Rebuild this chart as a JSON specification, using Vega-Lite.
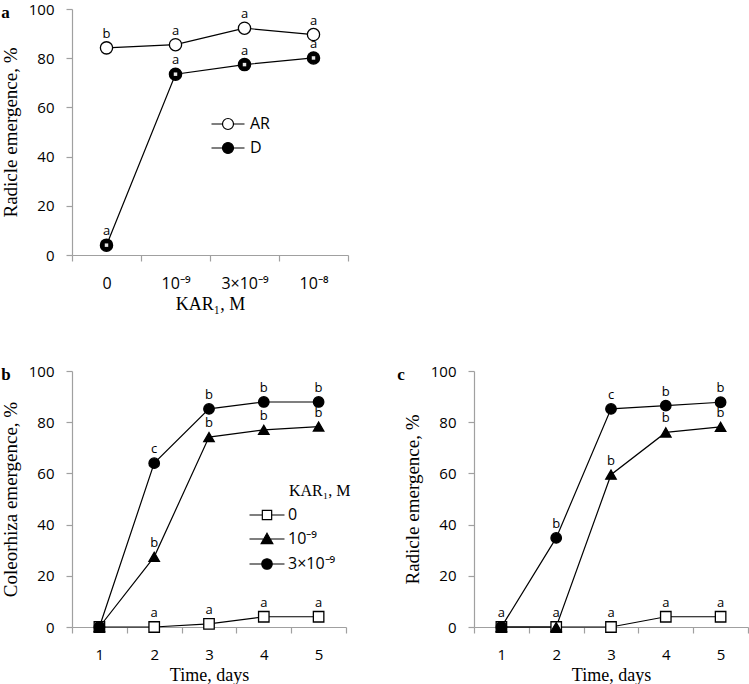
{
  "$schema": "https://vega.github.io/schema/vega-lite/v6.json",
  "padding": {"left": 1, "top": 2, "right": 0, "bottom": 0},
  "background": "white",
  "datasets": {
    "a": [
      {"conc": "0", "series": "AR", "value": 84.2, "letter": "b"},
      {"conc": "10⁻⁹", "series": "AR", "value": 85.5, "letter": "a"},
      {"conc": "3×10⁻⁹", "series": "AR", "value": 92.2, "letter": "a"},
      {"conc": "10⁻⁸", "series": "AR", "value": 89.6, "letter": "a"},
      {"conc": "0", "series": "D", "value": 4.0, "letter": "a"},
      {"conc": "10⁻⁹", "series": "D", "value": 73.5, "letter": "a"},
      {"conc": "3×10⁻⁹", "series": "D", "value": 77.4, "letter": "a"},
      {"conc": "10⁻⁸", "series": "D", "value": 80.1, "letter": "a"}
    ],
    "b": [
      {"day": 1, "series": "0", "value": 0, "letter": ""},
      {"day": 2, "series": "0", "value": 0, "letter": "a"},
      {"day": 3, "series": "0", "value": 1.2, "letter": "a"},
      {"day": 4, "series": "0", "value": 4.0, "letter": "a"},
      {"day": 5, "series": "0", "value": 4.0, "letter": "a"},
      {"day": 1, "series": "10⁻⁹", "value": 0, "letter": ""},
      {"day": 2, "series": "10⁻⁹", "value": 27.4, "letter": "b"},
      {"day": 3, "series": "10⁻⁹", "value": 74.2, "letter": "b"},
      {"day": 4, "series": "10⁻⁹", "value": 77.0, "letter": "b"},
      {"day": 5, "series": "10⁻⁹", "value": 78.3, "letter": "b"},
      {"day": 1, "series": "3×10⁻⁹", "value": 0, "letter": ""},
      {"day": 2, "series": "3×10⁻⁹", "value": 64.0, "letter": "c"},
      {"day": 3, "series": "3×10⁻⁹", "value": 85.2, "letter": "b"},
      {"day": 4, "series": "3×10⁻⁹", "value": 87.9, "letter": "b"},
      {"day": 5, "series": "3×10⁻⁹", "value": 87.9, "letter": "b"}
    ],
    "c": [
      {"day": 1, "series": "0", "value": 0, "letter": "a"},
      {"day": 2, "series": "0", "value": 0, "letter": "a"},
      {"day": 3, "series": "0", "value": 0, "letter": "a"},
      {"day": 4, "series": "0", "value": 4.0, "letter": "a"},
      {"day": 5, "series": "0", "value": 4.0, "letter": "a"},
      {"day": 1, "series": "10⁻⁹", "value": 0, "letter": ""},
      {"day": 2, "series": "10⁻⁹", "value": 0, "letter": ""},
      {"day": 3, "series": "10⁻⁹", "value": 59.5, "letter": "b"},
      {"day": 4, "series": "10⁻⁹", "value": 76.0, "letter": "b"},
      {"day": 5, "series": "10⁻⁹", "value": 78.2, "letter": "b"},
      {"day": 1, "series": "3×10⁻⁹", "value": 0, "letter": ""},
      {"day": 2, "series": "3×10⁻⁹", "value": 34.8, "letter": "b"},
      {"day": 3, "series": "3×10⁻⁹", "value": 85.2, "letter": "c"},
      {"day": 4, "series": "3×10⁻⁹", "value": 86.5, "letter": "b"},
      {"day": 5, "series": "3×10⁻⁹", "value": 87.8, "letter": "b"}
    ]
  },
  "spacing": 116,
  "bounds": "flush",
  "resolve": {"scale": {"x": "independent", "y": "independent", "fill": "independent", "shape": "independent"}, "legend": {"fill": "independent", "shape": "independent"}},
  "vconcat": [
    {
      "width": 276,
      "height": 246,
      "title": {"text": "a"},
      "data": {"name": "a"},
      "encoding": {
        "x": {"field": "conc", "type": "ordinal", "sort": ["0", "10⁻⁹", "3×10⁻⁹", "10⁻⁸"], "scale": {"type": "band", "paddingInner": 0, "paddingOuter": 0}, "axis": {"title": "KAR₁, M", "tickBand": "extent", "labelAngle": 0, "labelFontSize": 16}},
        "y": {"field": "value", "type": "quantitative", "scale": {"domain": [0, 100]}, "axis": {"title": "Radicle emergence, %", "values": [0, 20, 40, 60, 80, 100]}}
      },
      "layer": [
        {"mark": {"type": "line", "color": "black", "strokeWidth": 1.2}, "encoding": {"detail": {"field": "series"}}},
        {"mark": {"type": "point", "shape": "circle", "filled": true, "size": 150, "stroke": "black", "strokeWidth": 1.3, "opacity": 1},
         "encoding": {"fill": {"field": "series", "type": "nominal", "scale": {"domain": ["AR", "D"], "range": ["white", "black"]},
           "legend": {"title": null, "orient": "none", "legendX": 148, "legendY": 107, "symbolType": "M-3,0H-1M1,0H3M-1,0A1,1,0,1,0,1,0A1,1,0,1,0,-1,0Z", "symbolSize": 121, "symbolStrokeColor": "black", "symbolStrokeWidth": 1.2, "labelOffset": 14, "rowPadding": 8}}}},
        {"transform": [{"filter": "datum.series === 'D'"}], "mark": {"type": "point", "shape": "square", "filled": true, "size": 12, "fill": "white", "opacity": 0.9}},
        {"mark": {"type": "text", "dy": -14, "font": "Open Sans", "fontSize": 13, "color": "black"}, "encoding": {"text": {"field": "letter"}}}
      ]
    },
    {
      "spacing": 128,
      "bounds": "flush",
      "resolve": {"scale": {"x": "independent", "y": "independent", "fill": "independent", "shape": "independent"}, "legend": {"fill": "independent", "shape": "independent"}},
      "hconcat": [
        {
          "width": 274,
          "height": 256,
          "title": {"text": "b"},
          "data": {"name": "b"},
          "encoding": {
            "x": {"field": "day", "type": "ordinal", "scale": {"type": "band", "paddingInner": 0, "paddingOuter": 0}, "axis": {"title": "Time, days", "tickBand": "extent", "labelAngle": 0}},
            "y": {"field": "value", "type": "quantitative", "scale": {"domain": [0, 100]}, "axis": {"title": "Coleorhiza emergence, %", "values": [0, 20, 40, 60, 80, 100]}}
          },
          "resolve": {"scale": {"shape": "independent", "fill": "independent"}, "legend": {"shape": "independent", "fill": "independent"}},
          "layer": [
            {"mark": {"type": "line", "color": "black", "strokeWidth": 1.2}, "encoding": {"detail": {"field": "series"}}},
            {"mark": {"type": "point", "filled": true, "size": 110, "stroke": "black", "strokeWidth": 1.3, "opacity": 1},
             "encoding": {
               "shape": {"field": "series", "type": "nominal", "scale": {"domain": ["0", "10⁻⁹", "3×10⁻⁹"], "range": ["square", "triangle-up", "circle"]}, "legend": null},
               "fill": {"field": "series", "type": "nominal", "scale": {"domain": ["0", "10⁻⁹", "3×10⁻⁹"], "range": ["white", "black", "black"]}, "legend": null}
             }},
            {"transform": [{"filter": "false"}],
             "mark": {"type": "point", "filled": true, "stroke": "black", "opacity": 1},
             "encoding": {"fill": {"field": "series", "type": "nominal", "scale": {"domain": ["KAR₁, M"], "range": ["white"]},
               "legend": {"title": null, "orient": "none", "legendX": 201, "legendY": 112, "symbolType": "circle", "symbolSize": 1, "symbolStrokeWidth": 0, "labelOffset": 0, "labelFont": "Liberation Serif", "labelFontSize": 16}}}},
            {"transform": [{"filter": "false"}],
             "mark": {"type": "point", "filled": true, "stroke": "black", "opacity": 1},
             "encoding": {"fill": {"field": "series", "type": "nominal", "scale": {"domain": ["0"], "range": ["white"]},
               "legend": {"title": null, "orient": "none", "legendX": 187, "legendY": 136, "symbolType": "M-3,0H-0.8M0.8,0H3M-0.8,-0.8H0.8V0.8H-0.8Z", "symbolSize": 136, "symbolStrokeColor": "black", "symbolStrokeWidth": 1.2, "labelOffset": 13}}}},
            {"transform": [{"filter": "false"}],
             "mark": {"type": "point", "filled": true, "stroke": "black", "opacity": 1},
             "encoding": {"fill": {"field": "series", "type": "nominal", "scale": {"domain": ["10⁻⁹"], "range": ["black"]},
               "legend": {"title": null, "orient": "none", "legendX": 187, "legendY": 160, "symbolType": "M-3,0H-0.6M0.6,0H3M0,-1L1,0.8L-1,0.8Z", "symbolSize": 136, "symbolStrokeColor": "black", "symbolStrokeWidth": 1.2, "labelOffset": 13}}}},
            {"transform": [{"filter": "false"}],
             "mark": {"type": "point", "filled": true, "stroke": "black", "opacity": 1},
             "encoding": {"fill": {"field": "series", "type": "nominal", "scale": {"domain": ["3×10⁻⁹"], "range": ["black"]},
               "legend": {"title": null, "orient": "none", "legendX": 187, "legendY": 185, "symbolType": "M-3,0H-0.9M0.9,0H3M-0.9,0A0.9,0.9,0,1,0,0.9,0A0.9,0.9,0,1,0,-0.9,0Z", "symbolSize": 136, "symbolStrokeColor": "black", "symbolStrokeWidth": 1.2, "labelOffset": 13}}}},
            {"mark": {"type": "text", "dy": -14, "font": "Open Sans", "fontSize": 13, "color": "black"}, "encoding": {"text": {"field": "letter"}}}
          ]
        },
        {
          "width": 274,
          "height": 256,
          "title": {"text": "c", "dx": -6},
          "data": {"name": "c"},
          "encoding": {
            "x": {"field": "day", "type": "ordinal", "scale": {"type": "band", "paddingInner": 0, "paddingOuter": 0}, "axis": {"title": "Time, days", "tickBand": "extent", "labelAngle": 0}},
            "y": {"field": "value", "type": "quantitative", "scale": {"domain": [0, 100]}, "axis": {"title": "Radicle emergence, %", "values": [0, 20, 40, 60, 80, 100]}}
          },
          "layer": [
            {"mark": {"type": "line", "color": "black", "strokeWidth": 1.2}, "encoding": {"detail": {"field": "series"}}},
            {"mark": {"type": "point", "filled": true, "size": 110, "stroke": "black", "strokeWidth": 1.3, "opacity": 1},
             "encoding": {
               "shape": {"field": "series", "type": "nominal", "scale": {"domain": ["0", "10⁻⁹", "3×10⁻⁹"], "range": ["square", "triangle-up", "circle"]}, "legend": null},
               "fill": {"field": "series", "type": "nominal", "scale": {"domain": ["0", "10⁻⁹", "3×10⁻⁹"], "range": ["white", "black", "black"]}, "legend": null}
             }},
            {"mark": {"type": "text", "dy": -14, "font": "Open Sans", "fontSize": 13, "color": "black"}, "encoding": {"text": {"field": "letter"}}}
          ]
        }
      ]
    }
  ],
  "config": {
    "view": {"stroke": null},
    "font": "Open Sans",
    "axis": {"domainColor": "#a0a0a0", "tickColor": "#a0a0a0", "domainWidth": 1.2, "tickWidth": 1.2, "grid": false, "labelFont": "Open Sans", "labelFontSize": 15, "labelColor": "black", "titleFont": "Liberation Serif", "titleFontWeight": "normal", "titleFontSize": 18, "titleColor": "black", "tickSize": 6},
    "axisY": {"labelPadding": 12, "titlePadding": 8, "titleFontSize": 19},
    "axisX": {"labelPadding": 14, "titlePadding": 4},
    "title": {"font": "Liberation Serif", "fontWeight": "bold", "fontSize": 17, "anchor": "start", "frame": "bounds", "offset": -20, "color": "black"},
    "legend": {"labelFont": "Open Sans", "labelFontSize": 16, "labelColor": "black", "titleFont": "Liberation Serif", "titleFontWeight": "normal", "titleFontSize": 17, "titleColor": "black"}
  }
}
